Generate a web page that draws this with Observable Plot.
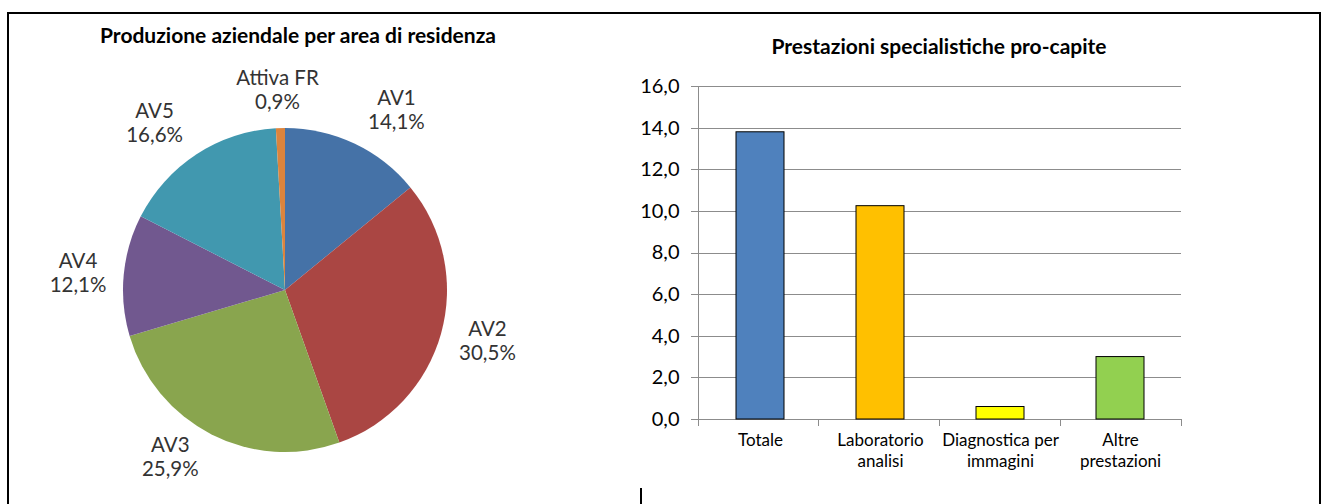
<!DOCTYPE html>
<html>
<head>
<meta charset="utf-8">
<script src="https://cdn.jsdelivr.net/npm/d3@7"></script>
<script src="https://cdn.jsdelivr.net/npm/@observablehq/plot@0.6"></script>
<style>
  html, body { margin: 0; padding: 0; background: #fff; }
  #wrap { position: relative; width: 1322px; height: 504px; overflow: hidden; font-family: Lato, "Open Sans", sans-serif; }
  .abs { position: absolute; }
  .title { position: absolute; font-weight: bold; font-size: 21px; color: #000; white-space: nowrap; transform: translate(-50%, -50%); }
  #border { left: 7px; top: 12px; width: 1310px; height: 500px; border: 2px solid #000; border-bottom: none; }
  #tick { left: 640px; top: 488px; width: 2px; height: 16px; background: #000; }
</style>
</head>
<body>
<div id="wrap">
  <div id="border" class="abs"></div>
  <div id="tick" class="abs"></div>
  <div id="pie" class="abs" style="left:0;top:0;"></div>
  <div id="bar" class="abs" style="left:640px;top:0;"></div>
  <div class="title" style="left:298px;top:34px;">Produzione aziendale per area di residenza</div>
  <div class="title" style="left:939px;top:45px;">Prestazioni specialistiche pro-capite</div>
</div>
<script>
// ---------- Data ----------
const pieAreas = ["AV1", "AV2", "AV3", "AV4", "AV5", "Attiva FR"];
const pieShares = [14.1, 30.5, 25.9, 12.1, 16.6, 0.9];
const pieColors = ["#4572A7", "#AA4643", "#89A54E", "#71588F", "#4198AF", "#DB843D"];

const barCategories = ["Totale", "Laboratorio analisi", "Diagnostica per immagini", "Altre prestazioni"];
const barLabels = ["Totale", "Laboratorio\nanalisi", "Diagnostica per\nimmagini", "Altre\nprestazioni"];
const barValues = [13.8, 10.25, 0.6, 3.0];
const barColors = ["#4F81BD", "#FFC000", "#FFFF00", "#92D050"];
const yTicks = [0, 2, 4, 6, 8, 10, 12, 14, 16];

const fmt1 = v => v.toFixed(1).replace(".", ",");

// ---------- Pie ----------
const pieW = 640, pieH = 504, R = 162, cx = 285, cy = 290;
const arcs = d3.pie().sort(null).startAngle(0).endAngle(2 * Math.PI)(pieShares);
const pieRows = pieAreas.map((name, i) => {
  const a = (arcs[i].startAngle + arcs[i].endAngle) / 2;
  const sx = Math.sin(a), cyv = Math.cos(a);
  const shift = Math.max(-1, Math.min(1, 3 * sx)) * 0.235;
  return {
    name, share: pieShares[i], color: pieColors[i], arc: arcs[i],
    lx: sx * 1.05 + shift,
    ly: cyv * (cyv < 0 ? 1.15 : 1.24)
  };
});

function pieSlices(index, scales, values, dimensions, context) {
  const x = scales.x, y = scales.y;
  const r = x(1) - x(0);
  const g = d3.create("svg:g").attr("transform", `translate(${x(0)},${y(0)})`);
  const arcGen = d3.arc().innerRadius(0).outerRadius(r);
  g.selectAll("path").data(pieRows).join("path")
    .attr("d", d => arcGen(d.arc))
    .attr("fill", d => d.color);
  return g.node();
}

const pie = Plot.plot({
  width: pieW, height: pieH,
  marginLeft: 0, marginRight: 0, marginTop: 0, marginBottom: 0,
  x: { domain: [-cx / R, (pieW - cx) / R], axis: null },
  y: { domain: [-(pieH - cy) / R, cy / R], axis: null },
  style: { fontFamily: "Lato, 'Open Sans', sans-serif", background: "transparent", overflow: "visible" },
  marks: [
    pieSlices,
    Plot.text(pieRows, {
      x: "lx", y: "ly",
      text: d => `${d.name}\n${fmt1(d.share)}%`,
      fontSize: 20.5, lineHeight: 1.17, fill: "#333", textAnchor: "middle", lineAnchor: "middle"
    })
  ]
});
document.getElementById("pie").appendChild(pie);

// ---------- Bars ----------
const barW = 682, barH = 504;
const mL = 58, mR = 141, mT = 86, mB = 85;
const axisGray = "#8C8C8C";

const barRows = barCategories.map((c, i) => ({ cat: c, label: barLabels[i], value: barValues[i], color: barColors[i] }));

function xAxisFrame(index, scales, values, dimensions, context) {
  const { width, height, marginLeft, marginRight, marginTop, marginBottom } = dimensions;
  const g = d3.create("svg:g").attr("stroke", axisGray).attr("stroke-width", 1).attr("shape-rendering", "crispEdges");
  const y0 = scales.y(0);
  // left axis line
  g.append("line").attr("x1", marginLeft).attr("x2", marginLeft).attr("y1", scales.y(16)).attr("y2", y0 + 7);
  // category boundary ticks
  const n = barCategories.length;
  const step = (width - marginLeft - marginRight) / n;
  for (let i = 0; i <= n; i++) {
    const xx = marginLeft + i * step;
    g.append("line").attr("x1", xx).attr("x2", xx).attr("y1", y0).attr("y2", y0 + 7);
  }
  return g.node();
}

const bar = Plot.plot({
  width: barW, height: barH,
  marginLeft: mL, marginRight: mR, marginTop: mT, marginBottom: mB,
  x: { domain: barCategories, paddingInner: 0.6, paddingOuter: 0.3, axis: null },
  y: { domain: [0, 16], axis: null, label: null },
  style: { fontFamily: "Lato, 'Open Sans', sans-serif", background: "transparent", overflow: "visible", color: "#000" },
  marks: [
    Plot.ruleY(yTicks, { stroke: axisGray, strokeWidth: 1, insetLeft: -7, shapeRendering: "crispEdges" }),
    Plot.axisY(yTicks, { label: null, tickSize: 0, tickPadding: 19, tickFormat: fmt1, fontSize: 20, fill: "#000" }),
    xAxisFrame,
    Plot.barY(barRows, { x: "cat", y: "value", fill: "color", stroke: "#000", strokeWidth: 1 }),
    Plot.text(barRows, {
      x: "cat", text: "label", frameAnchor: "bottom", dy: 11, lineAnchor: "top",
      fontSize: 17, lineHeight: 1.27, fill: "#000"
    })
  ]
});
document.getElementById("bar").appendChild(bar);
</script>
</body>
</html>
